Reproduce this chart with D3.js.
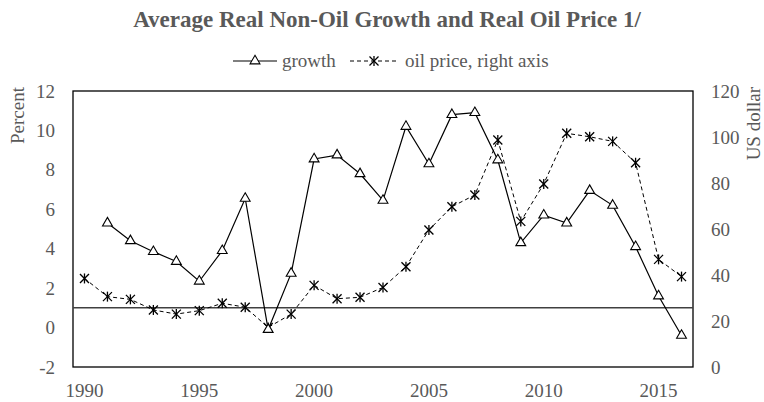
<!DOCTYPE html>
<html>
<head>
<meta charset="utf-8">
<script src="https://cdn.jsdelivr.net/npm/d3@7"></script>
<style>
  body { margin: 0; background: #fff; }
</style>
</head>
<body>
<svg id="drawing_region"></svg>
<script>
const years = d3.range(1990, 2017);
// growth, percent (left axis); 1990 has no value
const growth = [null, 5.3, 4.4, 3.85, 3.35, 2.35, 3.9, 6.55, -0.1, 2.75, 8.55, 8.75, 7.8, 6.45,
  10.2, 8.3, 10.8, 10.9, 8.5, 4.3, 5.7, 5.3, 6.95, 6.2, 4.1, 1.6, -0.4];
// oil price, US dollar (right axis)
const oil = [38.5, 30.6, 29.4, 24.8, 23.0, 24.5, 27.7, 26.0, 17.2, 23.0, 35.5, 29.7, 30.3, 34.6,
  43.6, 59.6, 69.7, 74.8, 98.7, 63.3, 79.6, 101.6, 100.1, 98.1, 88.8, 46.8, 39.3];
const leftTicks = [-2, 0, 2, 4, 6, 8, 10, 12];
const rightTicks = [0, 20, 40, 60, 80, 100, 120];
const xTicks = [1990, 1995, 2000, 2005, 2010, 2015];
const refLine = 1;

const width = 764, height = 402;
const margin = {top: 91, right: 71, bottom: 35, left: 73};
const svg = d3.select('#drawing_region').attr('width', width).attr('height', height);
const iw = width - margin.left - margin.right;
const ih = height - margin.top - margin.bottom;
const fs = '19px';
const ff = '"Liberation Serif", "Times New Roman", serif';
const txtColor = '#595959';

const x = d3.scaleBand().domain(years).range([0, iw]);
const xc = d => x(d) + x.bandwidth() / 2;
const yL = d3.scaleLinear().domain([-2, 12]).range([ih, 0]);
const yR = d3.scaleLinear().domain([0, 120]).range([ih, 0]);

const chart = svg.append('g').attr('transform', `translate(${margin.left},${margin.top})`);

function label(sel, size) {
  return sel.style('font-family', ff).style('font-size', size || fs).style('fill', txtColor);
}

// title
label(svg.append('text'), '23px')
  .attr('x', 387).attr('y', 27)
  .attr('text-anchor', 'middle')
  .style('font-weight', 'bold')
  .text('Average Real Non-Oil Growth and Real Oil Price 1/');

// axes
const fmt = d => String(d);
const axL = chart.append('g')
  .call(d3.axisLeft(yL).tickValues(leftTicks).tickFormat(fmt).tickSize(0).tickPadding(18));
const axR = chart.append('g').attr('transform', `translate(${iw},0)`)
  .call(d3.axisRight(yR).tickValues(rightTicks).tickFormat(fmt).tickSize(0).tickPadding(18));
const axB = chart.append('g').attr('transform', `translate(0,${ih})`)
  .call(d3.axisBottom(x).tickValues(xTicks).tickFormat(fmt).tickSize(0).tickPadding(17));
[axL, axR, axB].forEach(a => {
  a.attr('font-family', null);
  a.select('.domain').remove();
  label(a.selectAll('text'));
});

// axis titles
label(svg.append('text'))
  .attr('transform', 'translate(24,87) rotate(-90)')
  .attr('text-anchor', 'end')
  .text('Percent');
label(svg.append('text'))
  .attr('transform', 'translate(760,87) rotate(-90)')
  .attr('text-anchor', 'end')
  .text('US dollar');

// frame
chart.append('rect')
  .attr('width', iw).attr('height', ih)
  .attr('fill', 'none').attr('stroke', '#000').attr('stroke-width', 1.3);

// reference line
chart.append('line')
  .attr('x1', 0).attr('x2', iw)
  .attr('y1', yL(refLine)).attr('y2', yL(refLine))
  .attr('stroke', '#404040').attr('stroke-width', 1.5);

const tri = d3.symbol().type(d3.symbolTriangle).size(42);
function star(g) {
  const s = 4.5;
  g.append('line').attr('x1', -s).attr('y1', -s).attr('x2', s).attr('y2', s);
  g.append('line').attr('x1', -s).attr('y1', s).attr('x2', s).attr('y2', -s);
  g.append('line').attr('x1', 0).attr('y1', -s - 0.5).attr('x2', 0).attr('y2', s + 0.5);
  g.attr('stroke', '#000').attr('stroke-width', 1.3);
}

// oil price line
const oilData = years.map((yr, i) => ({yr, v: oil[i]}));
chart.append('path')
  .attr('d', d3.line().x(d => xc(d.yr)).y(d => yR(d.v))(oilData))
  .attr('fill', 'none').attr('stroke', '#000').attr('stroke-width', 1)
  .attr('stroke-dasharray', '4,3');
chart.selectAll('.oilpt').data(oilData).enter().append('g')
  .attr('class', 'oilpt')
  .attr('transform', d => `translate(${xc(d.yr)},${yR(d.v)})`)
  .each(function() { star(d3.select(this)); });

// growth line
const gData = years.map((yr, i) => ({yr, v: growth[i]})).filter(d => d.v !== null);
chart.append('path')
  .attr('d', d3.line().x(d => xc(d.yr)).y(d => yL(d.v))(gData))
  .attr('fill', 'none').attr('stroke', '#000').attr('stroke-width', 1.2);
chart.selectAll('.gpt').data(gData).enter().append('path')
  .attr('class', 'gpt')
  .attr('d', tri)
  .attr('transform', d => `translate(${xc(d.yr)},${yL(d.v)})`)
  .attr('fill', '#fff').attr('stroke', '#000').attr('stroke-width', 1.1);

// legend
const lg = svg.append('g').attr('transform', 'translate(0,61)');
lg.append('line').attr('x1', 233).attr('x2', 277).attr('y1', 0).attr('y2', 0)
  .attr('stroke', '#000').attr('stroke-width', 1.2);
lg.append('path').attr('d', tri).attr('transform', 'translate(255,0)')
  .attr('fill', '#fff').attr('stroke', '#000').attr('stroke-width', 1.1);
label(lg.append('text')).attr('x', 282).attr('y', 6).text('growth');
lg.append('line').attr('x1', 350).attr('x2', 398).attr('y1', 0).attr('y2', 0)
  .attr('stroke', '#000').attr('stroke-width', 1).attr('stroke-dasharray', '4,3');
star(lg.append('g').attr('transform', 'translate(374,0)'));
label(lg.append('text')).attr('x', 405).attr('y', 6).text('oil price, right axis');
</script>
</body>
</html>
